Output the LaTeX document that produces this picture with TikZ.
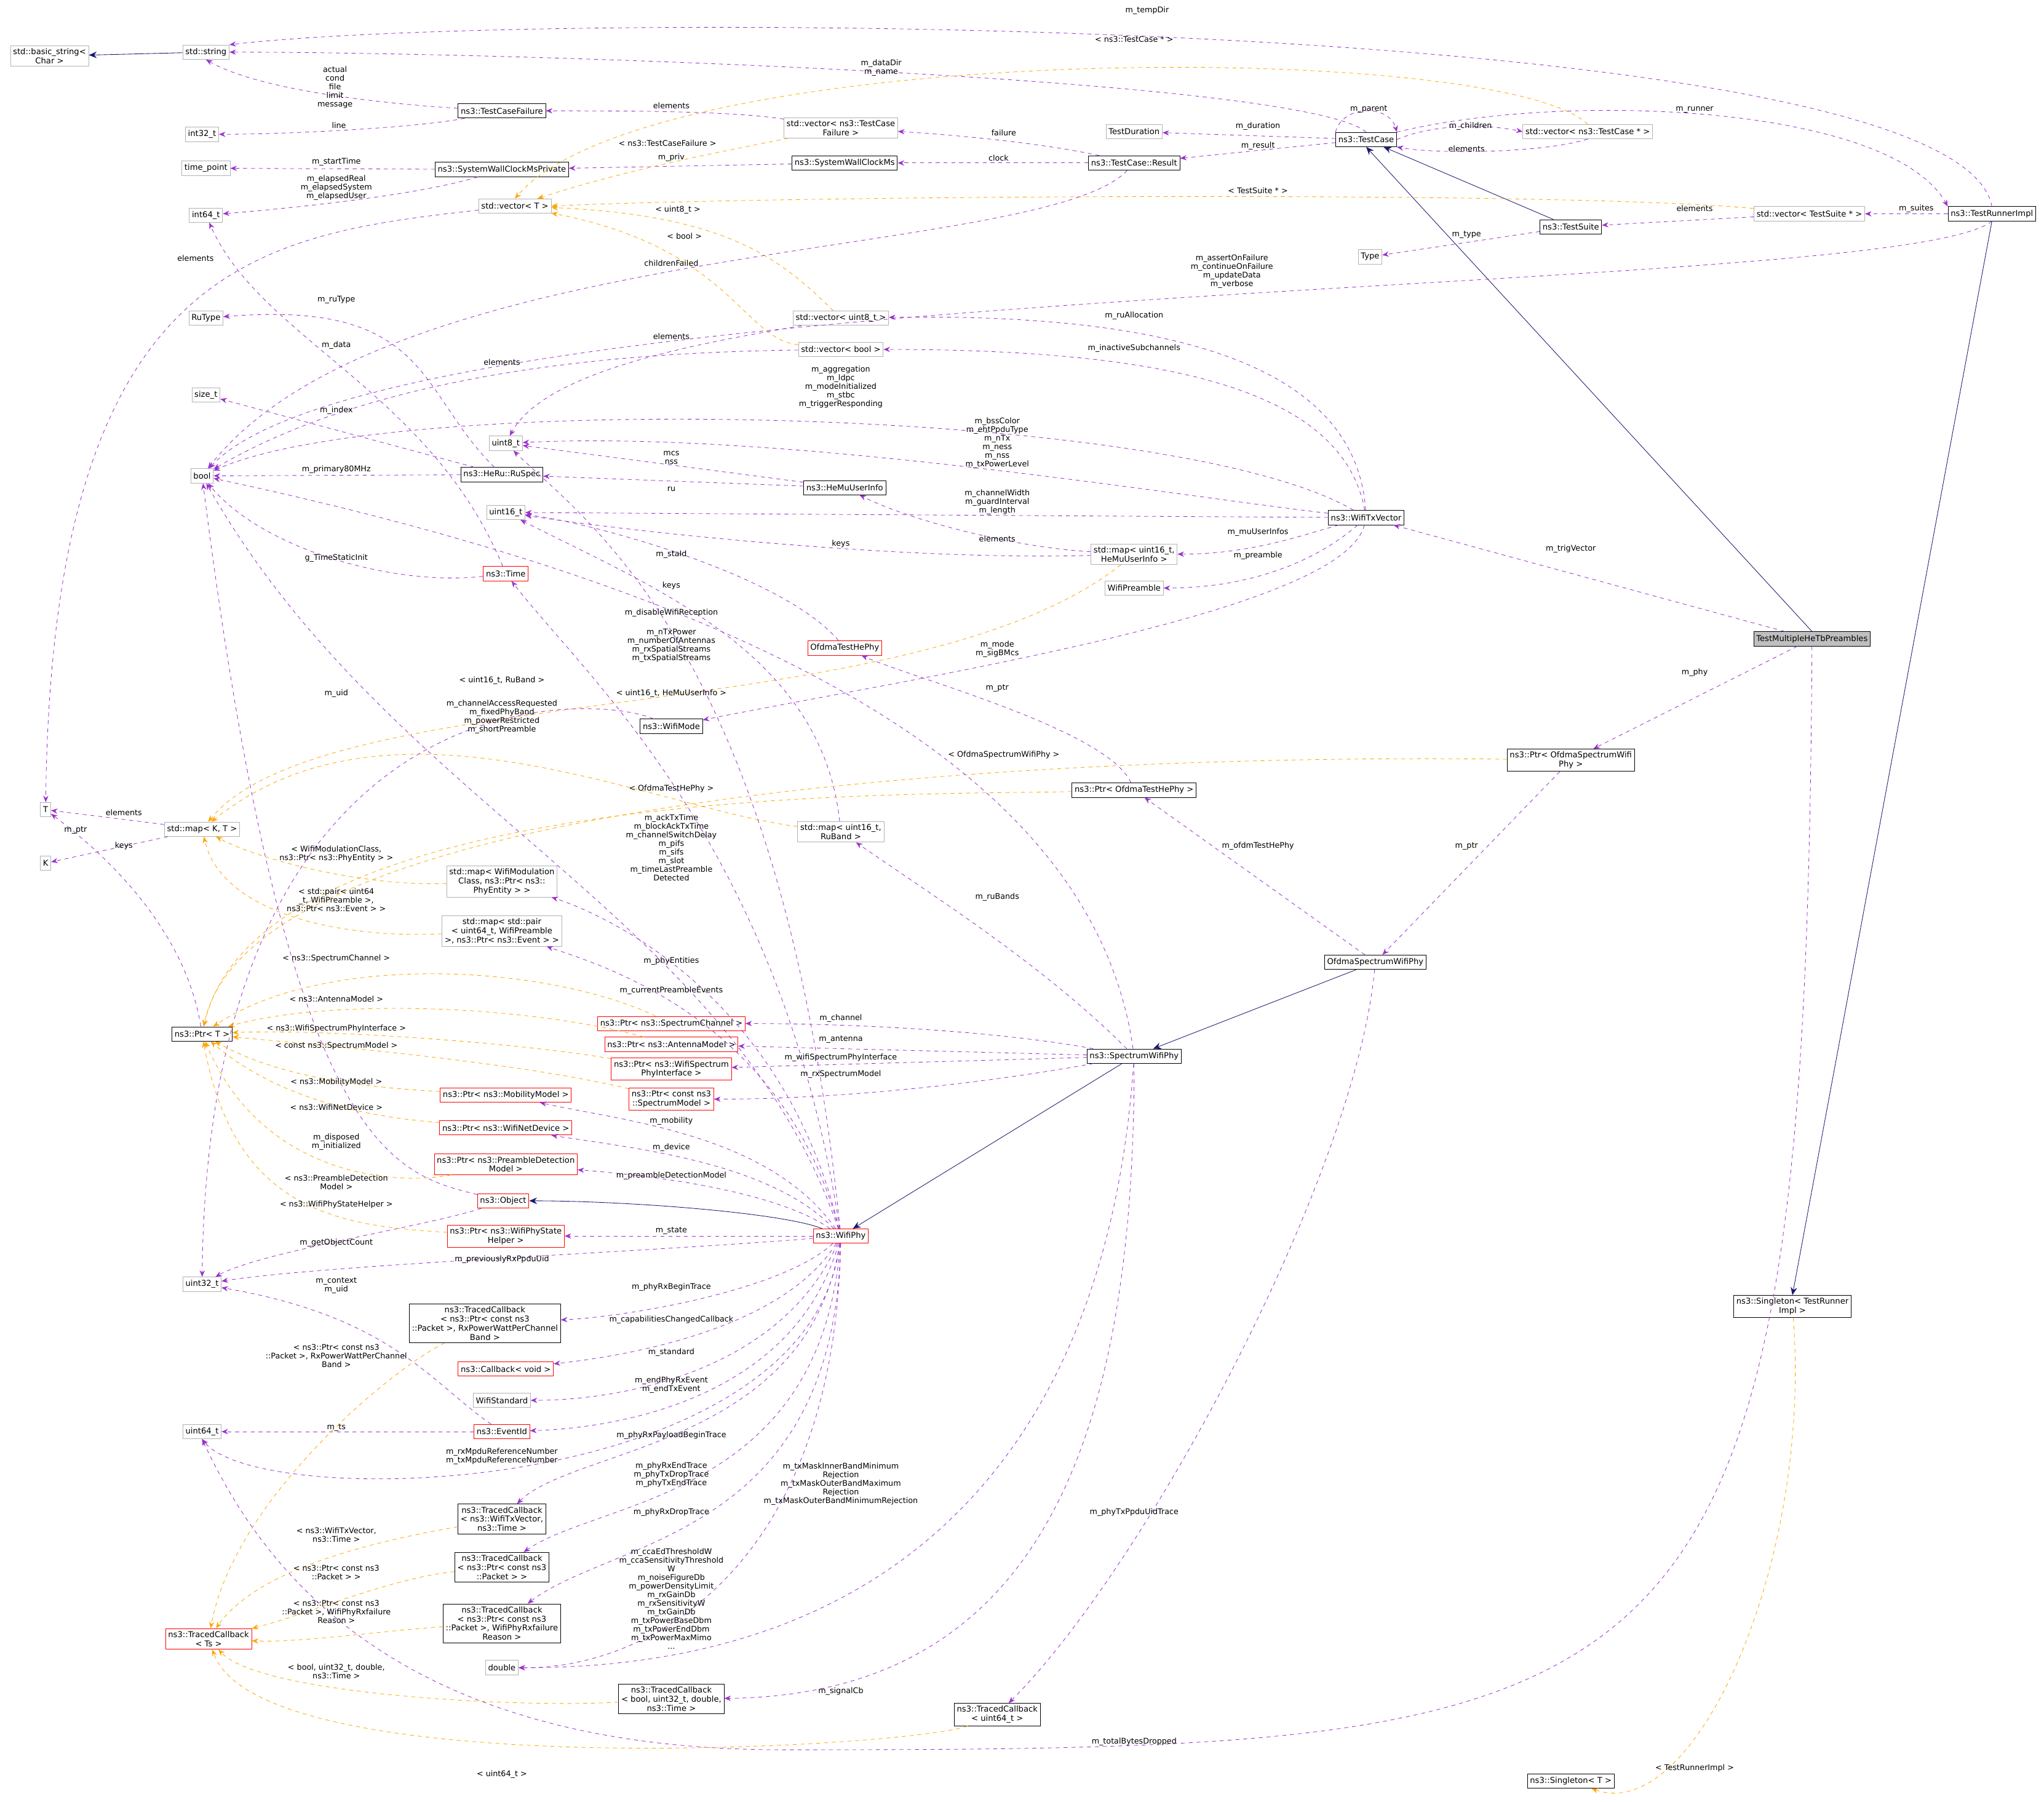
\documentclass[tikz,border=0pt]{standalone}
\usepackage{fontspec}
\setmainfont{DejaVu Sans}
\usetikzlibrary{arrows.meta}
\definecolor{pur}{HTML}{9A32CD}
\definecolor{org}{HTML}{FFA500}
\definecolor{nav}{HTML}{191970}
\begin{document}
\begin{tikzpicture}[x=1pt,y=-1pt,
 every node/.style={font=\fontsize{6.2}{7}\selectfont,align=center,inner sep=2pt},
 cls/.style={draw=black,minimum height=11pt},
 gry/.style={draw=black!30,minimum height=11pt},
 rd/.style={draw=red,minimum height=11pt},
 pe/.style={draw=pur,dashed,-{Stealth[length=5pt,width=4pt]}},
 oe/.style={draw=org,dashed,-{Stealth[length=5pt,width=4pt]}},
 ne/.style={draw=nav,-{Stealth[length=6pt,width=5pt]}},
 lb/.style={font=\fontsize{6}{6.6}\selectfont,inner sep=0pt}]
\useasboundingbox (0,0) rectangle (1568,1382);
% ---- nodes
\node[gry] (bstr) at (38,43) {std::basic\_string<\\Char >};
\node[gry] (str) at (158,40) {std::string};
\node[gry] (i32) at (155,103) {int32\_t};
\node[gry] (tp) at (158,129) {time\_point};
\node[gry] (i64) at (158,165) {int64\_t};
\node[gry] (rut) at (158,244) {RuType};
\node[gry] (szt) at (158,303) {size\_t};
\node[gry] (u8) at (388,340) {uint8\_t};
\node[gry] (bool) at (155,365) {bool};
\node[gry] (u16) at (388,393) {uint16\_t};
\node[gry] (T) at (35,621) {T};
\node[gry] (K) at (35,662) {K};
\node[gry] (mapKT) at (155,636) {std::map< K, T >};
\node[cls] (ptrT) at (155,793) {ns3::Ptr< T >};
\node[gry] (u32) at (155,985) {uint32\_t};
\node[gry] (u64) at (155,1098) {uint64\_t};
\node[rd] (tcTs) at (160,1257) {ns3::TracedCallback\\< Ts >};
\node[cls] (tcf) at (385,85) {ns3::TestCaseFailure};
\node[cls] (swp) at (385,130) {ns3::SystemWallClockMsPrivate};
\node[gry] (vecT) at (395,158) {std::vector< T >};
\node[cls] (ruspec) at (385,364) {ns3::HeRu::RuSpec};
\node[rd] (time) at (388,440) {ns3::Time};
\node[gry] (mapPE) at (385,676) {std::map< WifiModulation\\Class, ns3::Ptr< ns3::\\PhyEntity > >};
\node[gry] (mapEv) at (385,714) {std::map< std::pair\\< uint64\_t, WifiPreamble\\ >, ns3::Ptr< ns3::Event > >};
\node[rd] (pMob) at (388,840) {ns3::Ptr< ns3::MobilityModel >};
\node[rd] (pDev) at (388,865) {ns3::Ptr< ns3::WifiNetDevice >};
\node[rd] (pPre) at (388,893) {ns3::Ptr< ns3::PreambleDetection\\Model >};
\node[rd] (obj) at (386,921) {ns3::Object};
\node[rd] (pSt) at (388,948) {ns3::Ptr< ns3::WifiPhyState\\Helper >};
\node[cls] (tcRx) at (372,1015) {ns3::TracedCallback\\< ns3::Ptr< const ns3\\::Packet >, RxPowerWattPerChannel\\Band >};
\node[rd] (cbv) at (388,1050) {ns3::Callback< void >};
\node[gry] (wstd) at (385,1074) {WifiStandard};
\node[rd] (evid) at (385,1098) {ns3::EventId};
\node[cls] (tcTx) at (385,1165) {ns3::TracedCallback\\< ns3::WifiTxVector,\\ns3::Time >};
\node[cls] (tcPk) at (385,1202) {ns3::TracedCallback\\< ns3::Ptr< const ns3\\::Packet > >};
\node[cls] (tcRs) at (385,1245) {ns3::TracedCallback\\< ns3::Ptr< const ns3\\::Packet >, WifiPhyRxfailure\\Reason >};
\node[gry] (dbl) at (385,1279) {double};
\node[cls] (tcB) at (515,1303) {ns3::TracedCallback\\< bool, uint32\_t, double,\\ns3::Time >};
\node[cls] (tcU) at (765,1315) {ns3::TracedCallback\\< uint64\_t >};
\node[cls] (sgT) at (1205,1366) {ns3::Singleton< T >};
\node[cls] (sgR) at (1375,1002) {ns3::Singleton< TestRunner\\Impl >};
\node[gry] (vTCF) at (645,98) {std::vector< ns3::TestCase\\Failure >};
\node[cls] (swc) at (648,125) {ns3::SystemWallClockMs};
\node[gry] (vU8) at (645,244) {std::vector< uint8\_t >};
\node[gry] (vB) at (645,268) {std::vector< bool >};
\node[cls] (hemu) at (648,374) {ns3::HeMuUserInfo};
\node[gry] (mapHM) at (870,425) {std::map< uint16\_t,\\HeMuUserInfo >};
\node[gry] (wpre) at (870,451) {WifiPreamble};
\node[rd] (othp) at (648,497) {OfdmaTestHePhy};
\node[cls] (wmode) at (515,557) {ns3::WifiMode};
\node[gry] (mapRB) at (645,638) {std::map< uint16\_t,\\RuBand >};
\node[rd] (pCh) at (515,785) {ns3::Ptr< ns3::SpectrumChannel >};
\node[rd] (pAnt) at (515,801) {ns3::Ptr< ns3::AntennaModel >};
\node[rd] (pWsp) at (515,820) {ns3::Ptr< ns3::WifiSpectrum\\PhyInterface >};
\node[rd] (pSm) at (515,843) {ns3::Ptr< const ns3\\::SpectrumModel >};
\node[rd] (wphy) at (645,948) {ns3::WifiPhy};
\node[cls] (swphy) at (870,810) {ns3::SpectrumWifiPhy};
\node[cls] (pOth) at (870,606) {ns3::Ptr< OfdmaTestHePhy >};
\node[cls] (oswp) at (1055,738) {OfdmaSpectrumWifiPhy};
\node[cls] (pOsw) at (1205,583) {ns3::Ptr< OfdmaSpectrumWifi\\Phy >};
\node[draw=black,fill=black!25,minimum height=11pt] (tmh) at (1390,490) {TestMultipleHeTbPreambles};
\node[cls] (txv) at (1048,397) {ns3::WifiTxVector};
\node[gry] (tdur) at (870,101) {TestDuration};
\node[cls] (tc) at (1048,107) {ns3::TestCase};
\node[cls] (tcr) at (870,125) {ns3::TestCase::Result};
\node[gry] (vTC) at (1218,101) {std::vector< ns3::TestCase * >};
\node[gry] (vTS) at (1388,164) {std::vector< TestSuite * >};
\node[cls] (ts) at (1205,174) {ns3::TestSuite};
\node[cls] (tri) at (1528,164) {ns3::TestRunnerImpl};
\node[gry] (type) at (1051,197) {Type};
\coordinate (bot) at (600,1342);
% ---- edges (top)
\draw[ne] (str) -- (bstr);
\draw[pe] (tri.north) .. controls (1500,8) and (400,8) .. (str.north east);
\node[lb] at (880,8) {m\_tempDir};
\draw[pe] (tc.north) .. controls (1000,60) and (400,40) .. (str.east);
\node[lb] at (676,52) {m\_dataDir\\m\_name};
\draw[pe] (tcf) .. controls (300,80) and (200,70) .. (str.south);
\node[lb] at (257,67) {actual\\cond\\file\\limit\\message};
\draw[pe] (tcf) .. controls (320,98) and (220,103) .. (i32);
\node[lb] at (260,96) {line};
\draw[pe] (vTCF) .. controls (560,85) and (480,85) .. (tcf);
\node[lb] at (515,81) {elements};
\draw[pe] (tcr) .. controls (800,110) and (740,104) .. (vTCF);
\node[lb] at (770,102) {failure};
\draw[pe] (tcr) -- (swc); \node[lb] at (766,121) {clock};
\draw[pe] (swc) -- (swp); \node[lb] at (515,121) {m\_priv};
\draw[pe] (swp) -- (tp); \node[lb] at (258,124) {m\_startTime};
\draw[pe] (swp) .. controls (320,150) and (220,160) .. (i64);
\node[lb] at (258,144) {m\_elapsedReal\\m\_elapsedSystem\\m\_elapsedUser};
\draw[pe] (tc) -- (tdur); \node[lb] at (965,97) {m\_duration};
\draw[pe] (tc) -- (tcr); \node[lb] at (965,112) {m\_result};
\draw[pe] (tc.north west) .. controls (1030,80) and (1066,80) .. (tc.north east);
\node[lb] at (1050,84) {m\_parent};
\draw[pe] (tc.east) .. controls (1100,95) and (1140,95) .. (vTC.west);
\node[lb] at (1128,97) {m\_children};
\draw[pe] (vTC.south) .. controls (1180,118) and (1100,118) .. (tc.south east);
\node[lb] at (1125,114) {elements};
\draw[pe] (tc.north east) .. controls (1200,70) and (1450,80) .. (tri.north west);
\node[lb] at (1300,84) {m\_runner};
\draw[oe] (vTC.north) .. controls (1150,30) and (500,30) .. (vecT.north);
\node[lb] at (870,30) {< ns3::TestCase * >};
\draw[oe] (vTCF) .. controls (560,115) and (480,130) .. (vecT);
\node[lb] at (512,110) {< ns3::TestCaseFailure >};
\draw[oe] (vTS) .. controls (1200,146) and (600,150) .. (vecT.east);
\node[lb] at (965,146) {< TestSuite * >};
\draw[oe] (vU8) .. controls (600,200) and (560,165) .. (vecT);
\node[lb] at (520,161) {< uint8\_t >};
\draw[oe] (vB) .. controls (570,260) and (560,190) .. (vecT);
\node[lb] at (525,181) {< bool >};
\draw[pe] (vecT) .. controls (200,180) and (40,200) .. (T);
\node[lb] at (150,198) {elements};
\draw[pe] (tcr) .. controls (800,200) and (300,180) .. (bool);
\node[lb] at (515,202) {childrenFailed};
\draw[pe] (vTS) -- (ts); \node[lb] at (1300,160) {elements};
\draw[pe] (tri) -- (vTS); \node[lb] at (1470,160) {m\_suites};
\draw[pe] (ts) -- (type); \node[lb] at (1125,180) {m\_type};
\draw[ne] (ts) -- (tc);
\draw[pe] (tri.south) .. controls (1450,230) and (300,210) .. (bool);
\node[lb] at (945,208) {m\_assertOnFailure\\m\_continueOnFailure\\m\_updateData\\m\_verbose};
\draw[ne] (tmh.north) -- (tc.south);
\draw[ne] (tri.south) -- (sgR.north);
\draw[oe] (sgR) .. controls (1390,1200) and (1300,1400) .. (sgT);
\node[lb] at (1300,1356) {< TestRunnerImpl >};
% ---- WifiTxVector
\draw[pe] (txv) .. controls (1040,280) and (900,240) .. (vU8);
\node[lb] at (870,242) {m\_ruAllocation};
\draw[pe] (txv) .. controls (1030,300) and (900,268) .. (vB);
\node[lb] at (870,267) {m\_inactiveSubchannels};
\draw[pe] (txv) .. controls (900,310) and (300,300) .. (bool);
\node[lb] at (645,297) {m\_aggregation\\m\_ldpc\\m\_modeInitialized\\m\_stbc\\m\_triggerResponding};
\draw[pe] (txv) .. controls (900,380) and (600,330) .. (u8);
\node[lb] at (765,340) {m\_bssColor\\m\_ehtPpduType\\m\_nTx\\m\_ness\\m\_nss\\m\_txPowerLevel};
\draw[pe] (txv) -- (u16);
\node[lb] at (765,385) {m\_channelWidth\\m\_guardInterval\\m\_length};
\draw[pe] (txv) .. controls (1000,410) and (960,425) .. (mapHM);
\node[lb] at (965,408) {m\_muUserInfos};
\draw[pe] (txv) .. controls (1010,430) and (960,451) .. (wpre);
\node[lb] at (965,426) {m\_preamble};
\draw[pe] (txv) .. controls (1030,470) and (700,520) .. (wmode);
\node[lb] at (765,498) {m\_mode\\m\_sigBMcs};
\draw[pe] (tmh) -- (txv); \node[lb] at (1205,421) {m\_trigVector};
\draw[pe] (tmh) -- (pOsw); \node[lb] at (1300,516) {m\_phy};
\draw[pe] (tmh.south) .. controls (1385,1330) and (1300,1342) .. (bot) .. controls (300,1342) and (200,1200) .. (u64.south);
\node[lb] at (870,1336) {m\_totalBytesDropped};
\draw[pe] (mapHM) .. controls (780,420) and (700,400) .. (hemu);
\node[lb] at (765,413) {elements};
\draw[pe] (mapHM) .. controls (700,430) and (500,410) .. (u16);
\node[lb] at (645,417) {keys};
\draw[oe] (mapHM) .. controls (700,560) and (250,520) .. (mapKT);
\node[lb] at (515,532) {< uint16\_t, HeMuUserInfo >};
\draw[pe] (hemu) -- (u8); \node[lb] at (515,351) {mcs\\nss};
\draw[pe] (hemu) -- (ruspec); \node[lb] at (515,375) {ru};
\draw[pe] (ruspec) -- (szt); \node[lb] at (258,315) {m\_index};
\draw[pe] (ruspec) -- (bool); \node[lb] at (258,360) {m\_primary80MHz};
\draw[pe] (ruspec) .. controls (320,300) and (330,230) .. (rut);
\node[lb] at (258,230) {m\_ruType};
\draw[pe] (vU8) .. controls (560,260) and (420,280) .. (u8);
\node[lb] at (515,258) {elements};
\draw[pe] (vB) .. controls (500,270) and (300,280) .. (bool);
\node[lb] at (385,278) {elements};
\draw[pe] (time) .. controls (300,450) and (200,420) .. (bool);
\node[lb] at (258,428) {g\_TimeStaticInit};
\draw[pe] (time) .. controls (330,300) and (200,260) .. (i64);
\node[lb] at (258,265) {m\_data};
\draw[pe] (othp) .. controls (600,440) and (450,400) .. (u16);
\node[lb] at (515,425) {m\_staId};
\draw[pe] (wmode) .. controls (450,530) and (160,520) .. (u32);
\node[lb] at (258,532) {m\_uid};
\draw[pe] (mapRB) .. controls (630,500) and (500,450) .. (u16);
\node[lb] at (515,449) {keys};
\draw[oe] (mapRB) .. controls (500,620) and (300,520) .. (mapKT);
\node[lb] at (385,522) {< uint16\_t, RuBand >};
\draw[pe] (mapKT) -- (T); \node[lb] at (95,623) {elements};
\draw[pe] (mapKT) -- (K); \node[lb] at (95,649) {keys};
\draw[pe] (ptrT) .. controls (140,700) and (60,640) .. (T);
\node[lb] at (58,637) {m\_ptr};
\draw[pe] (pOth) .. controls (850,560) and (700,520) .. (othp);
\node[lb] at (765,528) {m\_ptr};
\draw[oe] (pOth) .. controls (700,610) and (200,600) .. (ptrT);
\node[lb] at (515,605) {< OfdmaTestHePhy >};
\draw[oe] (pOsw) .. controls (1000,580) and (200,580) .. (ptrT);
\node[lb] at (770,579) {< OfdmaSpectrumWifiPhy >};
\draw[pe] (pOsw) -- (oswp); \node[lb] at (1125,649) {m\_ptr};
\draw[pe] (oswp) -- (pOth); \node[lb] at (965,649) {m\_ofdmTestHePhy};
\draw[ne] (oswp) -- (swphy);
\draw[pe] (oswp) .. controls (1040,900) and (880,1200) .. (tcU);
\node[lb] at (870,1160) {m\_phyTxPpduUidTrace};
\draw[ne] (swphy) -- (wphy);
\draw[pe] (swphy) .. controls (800,740) and (720,690) .. (mapRB);
\node[lb] at (765,688) {m\_ruBands};
\draw[pe] (swphy) .. controls (760,790) and (650,785) .. (pCh);
\node[lb] at (645,781) {m\_channel};
\draw[pe] (swphy) -- (pAnt); \node[lb] at (645,797) {m\_antenna};
\draw[pe] (swphy) -- (pWsp); \node[lb] at (645,811) {m\_wifiSpectrumPhyInterface};
\draw[pe] (swphy) .. controls (760,830) and (650,843) .. (pSm);
\node[lb] at (645,824) {m\_rxSpectrumModel};
\draw[pe] (swphy) .. controls (840,600) and (600,460) .. (bool);
\node[lb] at (515,470) {m\_disableWifiReception};
\draw[pe] (swphy) .. controls (850,1100) and (700,1280) .. (dbl);
\node[lb] at (645,1138) {m\_txMaskInnerBandMinimum\\Rejection\\m\_txMaskOuterBandMaximum\\Rejection\\m\_txMaskOuterBandMinimumRejection};
\draw[pe] (swphy) .. controls (870,1100) and (800,1300) .. (tcB);
\node[lb] at (645,1297) {m\_signalCb};
% ---- WifiPhy
\draw[pe] (wphy) .. controls (560,700) and (300,620) .. (bool);
\node[lb] at (385,550) {m\_channelAccessRequested\\m\_fixedPhyBand\\m\_powerRestricted\\m\_shortPreamble};
\draw[pe] (wphy) .. controls (600,500) and (450,400) .. (u8);
\node[lb] at (515,495) {m\_nTxPower\\m\_numberOfAntennas\\m\_rxSpatialStreams\\m\_txSpatialStreams};
\draw[pe] (wphy) .. controls (600,650) and (450,520) .. (time);
\node[lb] at (515,650) {m\_ackTxTime\\m\_blockAckTxTime\\m\_channelSwitchDelay\\m\_pifs\\m\_sifs\\m\_slot\\m\_timeLastPreamble\\Detected};
\draw[pe] (wphy) .. controls (600,760) and (460,700) .. (mapPE);
\node[lb] at (515,737) {m\_phyEntities};
\draw[pe] (wphy) .. controls (600,780) and (460,740) .. (mapEv);
\node[lb] at (515,760) {m\_currentPreambleEvents};
\draw[pe] (wphy) .. controls (590,870) and (480,860) .. (pMob);
\node[lb] at (515,860) {m\_mobility};
\draw[pe] (wphy) .. controls (590,890) and (480,880) .. (pDev);
\node[lb] at (515,880) {m\_device};
\draw[pe] (wphy) .. controls (590,910) and (480,900) .. (pPre);
\node[lb] at (515,902) {m\_preambleDetectionModel};
\draw[ne] (wphy) .. controls (600,930) and (480,921) .. (obj);
\draw[pe] (wphy) -- (pSt); \node[lb] at (515,944) {m\_state};
\draw[pe] (wphy) .. controls (500,960) and (250,970) .. (u32);
\node[lb] at (385,966) {m\_previouslyRxPpduUid};
\draw[pe] (wphy) .. controls (600,990) and (480,1010) .. (tcRx);
\node[lb] at (515,987) {m\_phyRxBeginTrace};
\draw[pe] (wphy) .. controls (600,1020) and (480,1040) .. (cbv);
\node[lb] at (515,1012) {m\_capabilitiesChangedCallback};
\draw[pe] (wphy) .. controls (600,1050) and (480,1074) .. (wstd);
\node[lb] at (515,1037) {m\_standard};
\draw[pe] (wphy) .. controls (610,1070) and (480,1095) .. (evid);
\node[lb] at (515,1062) {m\_endPhyRxEvent\\m\_endTxEvent};
\draw[pe] (wphy) .. controls (620,1150) and (200,1160) .. (u64.south);
\node[lb] at (385,1117) {m\_rxMpduReferenceNumber\\m\_txMpduReferenceNumber};
\draw[pe] (wphy) .. controls (620,1110) and (440,1110) .. (tcTx);
\node[lb] at (515,1101) {m\_phyRxPayloadBeginTrace};
\draw[pe] (wphy) .. controls (630,1150) and (460,1150) .. (tcPk);
\node[lb] at (515,1131) {m\_phyRxEndTrace\\m\_phyTxDropTrace\\m\_phyTxEndTrace};
\draw[pe] (wphy) .. controls (640,1180) and (470,1180) .. (tcRs);
\node[lb] at (515,1160) {m\_phyRxDropTrace};
\draw[pe] (wphy) .. controls (640,1200) and (500,1280) .. (dbl);
\node[lb] at (515,1226) {m\_ccaEdThresholdW\\m\_ccaSensitivityThreshold\\W\\m\_noiseFigureDb\\m\_powerDensityLimit\\m\_rxGainDb\\m\_rxSensitivityW\\m\_txGainDb\\m\_txPowerBaseDbm\\m\_txPowerEndDbm\\m\_txPowerMaxMimo\\...};
\draw[pe] (obj) .. controls (300,900) and (220,880) .. (bool);
\node[lb] at (258,876) {m\_disposed\\m\_initialized};
\draw[pe] (obj) .. controls (330,940) and (200,960) .. (u32);
\node[lb] at (258,953) {m\_getObjectCount};
\draw[pe] (evid) .. controls (330,1060) and (300,1010) .. (u32);
\node[lb] at (258,986) {m\_context\\m\_uid};
\draw[pe] (evid) -- (u64); \node[lb] at (258,1095) {m\_ts};
% ---- orange to Ptr<T>, map<K,T>, TracedCallback<Ts>
\draw[oe] (mapPE) .. controls (280,680) and (200,660) .. (mapKT);
\node[lb] at (258,655) {< WifiModulationClass,\\ns3::Ptr< ns3::PhyEntity > >};
\draw[oe] (mapEv) .. controls (260,720) and (170,700) .. (mapKT);
\node[lb] at (258,690) {< std::pair< uint64\\\_t, WifiPreamble >,\\ns3::Ptr< ns3::Event > >};
\draw[oe] (pCh) .. controls (420,740) and (250,730) .. (ptrT);
\node[lb] at (258,735) {< ns3::SpectrumChannel >};
\draw[oe] (pAnt) .. controls (400,770) and (250,766) .. (ptrT);
\node[lb] at (258,766) {< ns3::AntennaModel >};
\draw[oe] (pWsp) .. controls (400,800) and (250,789) .. (ptrT);
\node[lb] at (258,789) {< ns3::WifiSpectrumPhyInterface >};
\draw[oe] (pSm) .. controls (400,815) and (250,802) .. (ptrT);
\node[lb] at (258,802) {< const ns3::SpectrumModel >};
\draw[oe] (pMob) .. controls (300,835) and (220,830) .. (ptrT);
\node[lb] at (258,830) {< ns3::MobilityModel >};
\draw[oe] (pDev) .. controls (300,858) and (220,849) .. (ptrT);
\node[lb] at (258,849) {< ns3::WifiNetDevice >};
\draw[oe] (pPre) .. controls (300,910) and (200,900) .. (ptrT);
\node[lb] at (258,907) {< ns3::PreambleDetection\\Model >};
\draw[oe] (pSt) .. controls (260,940) and (180,930) .. (ptrT);
\node[lb] at (258,924) {< ns3::WifiPhyStateHelper >};
\draw[oe] (tcRx) .. controls (300,1050) and (180,1150) .. (tcTs);
\node[lb] at (258,1040) {< ns3::Ptr< const ns3\\::Packet >, RxPowerWattPerChannel\\Band >};
\draw[oe] (tcTx) .. controls (300,1180) and (200,1200) .. (tcTs);
\node[lb] at (258,1177) {< ns3::WifiTxVector,\\ns3::Time >};
\draw[oe] (tcPk) .. controls (300,1210) and (230,1240) .. (tcTs);
\node[lb] at (258,1206) {< ns3::Ptr< const ns3\\::Packet > >};
\draw[oe] (tcRs) .. controls (300,1250) and (230,1260) .. (tcTs);
\node[lb] at (258,1236) {< ns3::Ptr< const ns3\\::Packet >, WifiPhyRxfailure\\Reason >};
\draw[oe] (tcB) .. controls (400,1310) and (200,1300) .. (tcTs);
\node[lb] at (258,1282) {< bool, uint32\_t, double,\\ns3::Time >};
\draw[oe] (tcU) .. controls (700,1340) and (200,1370) .. (tcTs);
\node[lb] at (385,1361) {< uint64\_t >};
\end{tikzpicture}
\end{document}
